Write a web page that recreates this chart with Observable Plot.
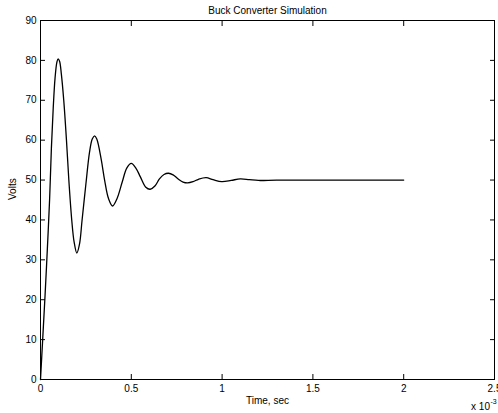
<!DOCTYPE html>
<html>
<head>
<meta charset="utf-8">
<script src="https://cdn.jsdelivr.net/npm/d3@7"></script>
<script src="https://cdn.jsdelivr.net/npm/@observablehq/plot@0.6"></script>
<style>
  html, body { margin: 0; padding: 0; background: white; overflow: hidden; }
</style>
</head>
<body>
<div id="chart"></div>
<script>
// Time in milliseconds (axis shows "x 10^-3" sec) and output voltage in volts
const timeMs = [0, 0.012, 0.025, 0.038, 0.05, 0.06, 0.07, 0.08, 0.09, 0.097, 0.105, 0.115, 0.128, 0.143, 0.156, 0.172, 0.185, 0.2, 0.215, 0.229, 0.25, 0.27, 0.285, 0.298, 0.31, 0.335, 0.353, 0.375, 0.397, 0.42, 0.45, 0.475, 0.5, 0.525, 0.55, 0.58, 0.604, 0.63, 0.655, 0.68, 0.705, 0.73, 0.76, 0.785, 0.81, 0.84, 0.87, 0.912, 0.95, 0.998, 1.05, 1.1, 1.15, 1.2, 1.3, 1.5, 1.75, 2.0];
const volts  = [0, 10, 21, 33, 45, 58, 68, 75.5, 79.5, 80.4, 79.8, 76.5, 70, 60, 50, 40, 34.5, 31.7, 34, 40, 49, 57, 60.3, 61.1, 60.3, 55, 50, 45.3, 43.5, 45.2, 49.5, 53, 54.2, 53, 50.8, 48.2, 47.7, 48.5, 50.3, 51.4, 51.7, 51.3, 50.2, 49.5, 49.3, 49.6, 50.2, 50.6, 50.1, 49.6, 49.9, 50.3, 50.1, 49.9, 50.0, 50.0, 50.0, 50.0];
const xTicks = [0, 0.5, 1, 1.5, 2, 2.5];
const yTicks = [0, 10, 20, 30, 40, 50, 60, 70, 80, 90];
const titleText = "Buck Converter Simulation";
const xLabel = "Time, sec";
const yLabel = "Volts";
const xExpBase = "x 10";
const xExpPower = "-3";

const data = timeMs.map((t, i) => ({t, v: volts[i]}));
const noText = () => "";

const chart = Plot.plot({
  width: 498,
  height: 413,
  marginLeft: 40,
  marginRight: 4,
  marginTop: 20,
  marginBottom: 34,
  style: {fontFamily: "'Liberation Sans', Arial, Helvetica, sans-serif", fontSize: "10px", color: "black", background: "white"},
  x: {domain: [0, 2.5]},
  y: {domain: [0, 90]},
  marks: [
    Plot.line(data, {x: "t", y: "v", curve: "catmull-rom", stroke: "black", strokeWidth: 1.3}),
    Plot.axisX(xTicks, {anchor: "bottom", tickSize: 0, tickPadding: 5, label: null, tickFormat: d => String(d)}),
    Plot.axisX(xTicks, {anchor: "bottom", tickSize: -5, label: null, tickFormat: noText}),
    Plot.axisX(xTicks, {anchor: "top", tickSize: -5, label: null, tickFormat: noText}),
    Plot.axisY(yTicks, {anchor: "left", tickSize: 0, tickPadding: 4, label: null, tickFormat: d => String(d)}),
    Plot.axisY(yTicks, {anchor: "left", tickSize: -5, label: null, tickFormat: noText}),
    Plot.axisY(yTicks, {anchor: "right", tickSize: -5, label: null, tickFormat: noText}),
    Plot.frame({stroke: "black", strokeWidth: 1}),
    Plot.text([titleText], {frameAnchor: "top", dy: -10, lineAnchor: "middle", fontSize: 10}),
    Plot.text([xLabel], {frameAnchor: "bottom", dy: 21, lineAnchor: "middle", fontSize: 10}),
    Plot.text([yLabel], {frameAnchor: "left", dx: -28, rotate: -90, lineAnchor: "middle", fontSize: 10}),
    Plot.text([xExpBase], {frameAnchor: "bottom-right", dx: -4.5, dy: 30, textAnchor: "end", lineAnchor: "bottom", fontSize: 10}),
    Plot.text([xExpPower], {frameAnchor: "bottom-right", dx: -4, dy: 24, textAnchor: "start", lineAnchor: "bottom", fontSize: 7})
  ]
});
document.getElementById("chart").appendChild(chart);
</script>
</body>
</html>
